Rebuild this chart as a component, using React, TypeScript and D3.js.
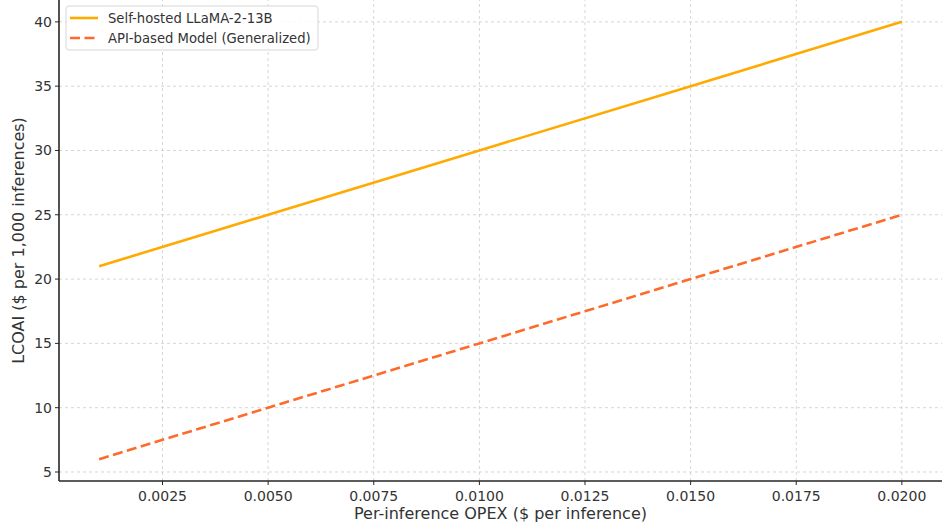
import React from 'react';
import * as d3 from 'd3';

const opex = [0.001, 0.005, 0.01, 0.015, 0.02];
const selfHosted = [21, 25, 30, 35, 40];
const apiBased = [6, 10, 15, 20, 25];
const xTicks = [0.0025, 0.005, 0.0075, 0.01, 0.0125, 0.015, 0.0175, 0.02];
const yTicks = [5, 10, 15, 20, 25, 30, 35, 40];
const seriesNames = ['Self-hosted LLaMA-2-13B', 'API-based Model (Generalized)'];

const W = 948;
const H = 522;
const margin = { top: 0, right: 6, bottom: 41, left: 59 };
const font = 'DejaVu Sans, sans-serif';

const App: React.FC = () => {
  const x = d3.scaleLinear().domain([0.00005, 0.02095]).range([margin.left, W - margin.right]);
  const y = d3.scaleLinear().domain([4.3, 41.7]).range([H - margin.bottom, margin.top]);

  const line = d3.line<[number, number]>().x(d => x(d[0])).y(d => y(d[1]));
  const pts1 = opex.map((v, i) => [v, selfHosted[i]] as [number, number]);
  const pts2 = opex.map((v, i) => [v, apiBased[i]] as [number, number]);

  const x0 = margin.left;
  const x1 = W - margin.right;
  const y0 = H - margin.bottom;
  const y1 = margin.top;

  return (
    <svg width={W} height={H} style={{ position: 'absolute', left: 0, top: 0, background: '#fff' }}>
      {/* grid */}
      {xTicks.map(t => (
        <line key={'gx' + t} x1={x(t)} x2={x(t)} y1={y0} y2={y1} stroke="#cccccc" strokeWidth={0.8} strokeDasharray="3,3" />
      ))}
      {yTicks.map(t => (
        <line key={'gy' + t} x1={x0} x2={x1} y1={y(t)} y2={y(t)} stroke="#cccccc" strokeWidth={0.8} strokeDasharray="3,3" />
      ))}

      {/* lines */}
      <path d={line(pts1) ?? ''} fill="none" stroke="#ffaa00" strokeWidth={2.6} />
      <path d={line(pts2) ?? ''} fill="none" stroke="#ff6a2b" strokeWidth={2.6} strokeDasharray="10,4.5" />

      {/* spines */}
      <line x1={x0} x2={x0} y1={y0} y2={y1} stroke="#262626" strokeWidth={1.6} />
      <line x1={x0} x2={x1} y1={y0} y2={y0} stroke="#262626" strokeWidth={1.6} />

      {/* x ticks */}
      {xTicks.map(t => (
        <g key={'xt' + t}>
          <line x1={x(t)} x2={x(t)} y1={y0} y2={y0 + 4} stroke="#262626" strokeWidth={1} />
          <text x={x(t)} y={y0 + 20} textAnchor="middle" fontFamily={font} fontSize={14} fill="#333">
            {d3.format('.4f')(t)}
          </text>
        </g>
      ))}
      {/* y ticks */}
      {yTicks.map(t => (
        <g key={'yt' + t}>
          <line x1={x0 - 4} x2={x0} y1={y(t)} y2={y(t)} stroke="#262626" strokeWidth={1} />
          <text x={x0 - 7} y={y(t)} dy="0.35em" textAnchor="end" fontFamily={font} fontSize={14} fill="#333">
            {t}
          </text>
        </g>
      ))}

      {/* axis labels */}
      <text x={(x0 + x1) / 2 - 0} y={H - 3} textAnchor="middle" fontFamily={font} fontSize={16} fill="#333">
        Per-inference OPEX ($ per inference)
      </text>
      <text transform={`translate(24,${(y0 + y1) / 2}) rotate(-90)`} textAnchor="middle" fontFamily={font} fontSize={16} fill="#333">
        LCOAI ($ per 1,000 inferences)
      </text>

      {/* legend */}
      <g>
        <rect x={66} y={6} width={252} height={44} rx={3} fill="#fff" fillOpacity={0.85} stroke="#d6d6d6" />
        <line x1={70} x2={98} y1={18} y2={18} stroke="#ffaa00" strokeWidth={2.6} />
        <line x1={70} x2={98} y1={38} y2={38} stroke="#ff6a2b" strokeWidth={2.6} strokeDasharray="10,4.5" />
        <text x={108} y={18} dy="0.35em" fontFamily={font} fontSize={13.2} fill="#333">{seriesNames[0]}</text>
        <text x={108} y={38} dy="0.35em" fontFamily={font} fontSize={13.2} fill="#333">{seriesNames[1]}</text>
      </g>
    </svg>
  );
};

export default App;
